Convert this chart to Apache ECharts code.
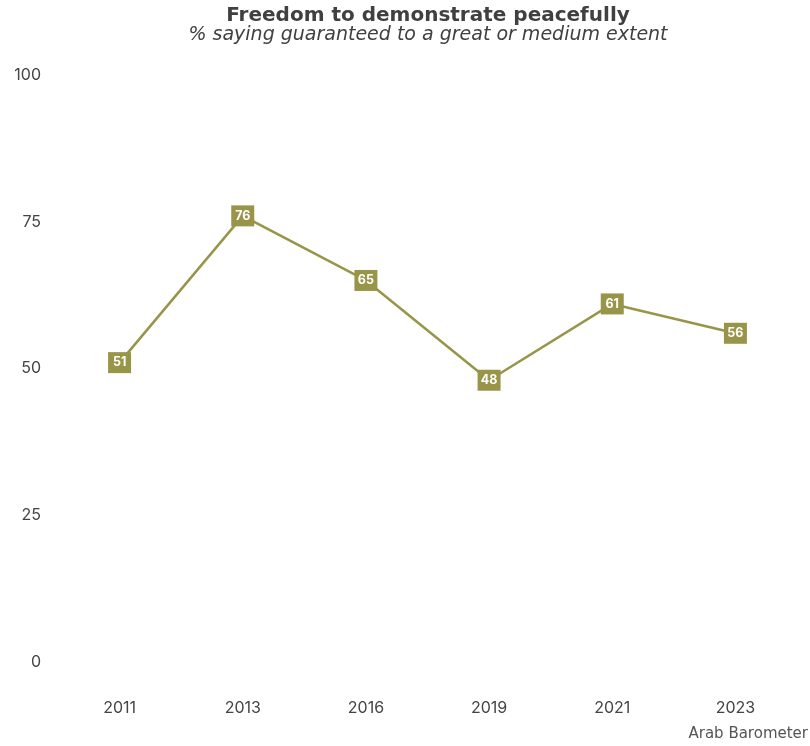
<!DOCTYPE html>
<html><head><meta charset="utf-8">
<script src="https://cdn.jsdelivr.net/npm/echarts@6/dist/echarts.min.js"></script>
<style>html,body{margin:0;padding:0;background:#fff}#c{width:810px;height:746px}</style>
</head><body><div id="c"></div>
<script>
const years = ['2011','2013','2016','2019','2021','2023'];
const values = [51, 76, 65, 48, 61, 56];
const yTicks = [0, 25, 50, 75, 100];
const titleText = 'Freedom to demonstrate peacefully';
const subtitleText = '% saying guaranteed to a great or medium extent';
const sourceText = 'Arab Barometer';

const FONT = 'Inter, "Open Sans", sans-serif';
const TFONT = '"DejaVu Sans", sans-serif';
const chart = echarts.init(document.getElementById('c'));
chart.setOption({
  animation: false,
  backgroundColor: '#fff',
  grid: {left: 58, right: 13, top: 75, bottom: 84},
  graphic: [
    {type: 'text', position: [428, 6], style: {text: titleText, textAlign: 'center', textVerticalAlign: 'top', font: 'bold 20px ' + TFONT, fill: '#404040'}},
    {type: 'text', position: [428, 26], style: {text: subtitleText, textAlign: 'center', textVerticalAlign: 'top', font: 'oblique 19px ' + TFONT, fill: '#404040'}},
    {type: 'text', position: [808, 727], style: {text: sourceText, textAlign: 'right', textVerticalAlign: 'top', font: '15px ' + TFONT, fill: '#555'}}
  ],
  xAxis: {
    type: 'category', data: years, boundaryGap: true,
    axisLine: {show: false}, axisTick: {show: false},
    axisLabel: {color: '#444', fontSize: 16, fontFamily: FONT, margin: 38}
  },
  yAxis: {
    type: 'value', min: yTicks[0], max: yTicks[yTicks.length-1], interval: 25,
    splitLine: {show: false}, axisLine: {show: false}, axisTick: {show: false},
    axisLabel: {color: '#444', fontSize: 16, fontFamily: FONT, margin: 17}
  },
  series: [{
    type: 'line', data: values,
    lineStyle: {color: '#999548', width: 2.5},
    itemStyle: {color: '#999548'},
    symbol: 'rect', symbolSize: [23, 21],
    label: {show: true, position: 'inside', color: '#fff', fontWeight: 'bold', fontSize: 12.5, fontFamily: FONT}
  }]
});
</script></body></html>
